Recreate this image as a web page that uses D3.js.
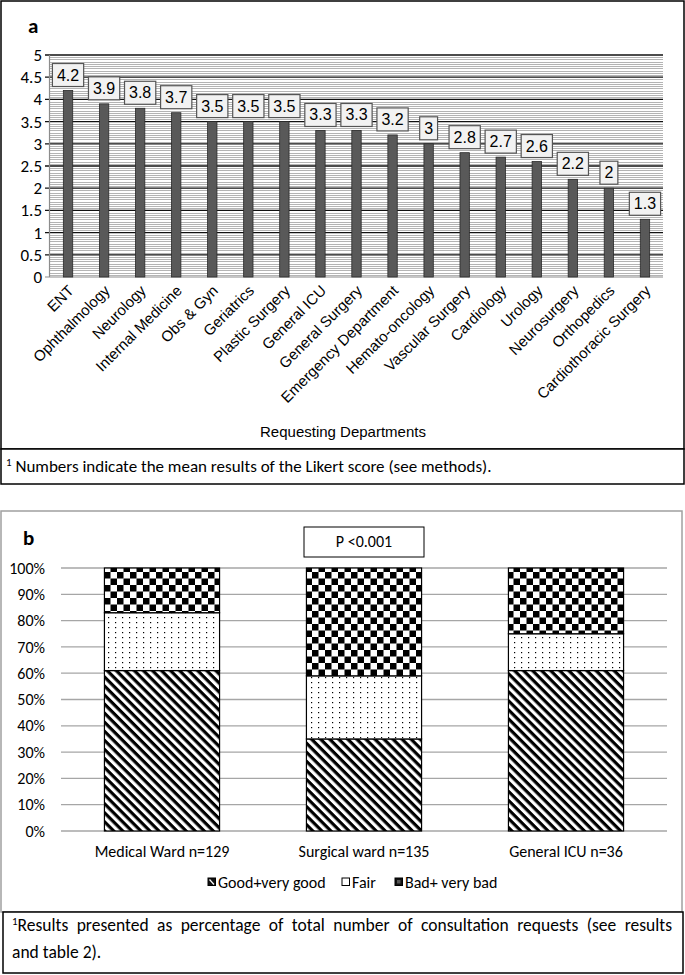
<!DOCTYPE html>
<html><head><meta charset="utf-8">
<script src="https://cdn.jsdelivr.net/npm/d3@7"></script>
<style>body{margin:0;background:#fff}svg{display:block}</style>
</head><body>
<svg id="c" width="685" height="975"></svg>
<script>
// ---- Data (panel a) ----
const departments = ["ENT","Ophthalmology","Neurology","Internal Medicine","Obs & Gyn","Geriatrics","Plastic Surgery","General ICU","General Surgery","Emergency Department","Hemato-oncology","Vascular Surgery","Cardiology","Urology","Neurosurgery","Orthopedics","Cardiothoracic Surgery"];
const likertMeans = [4.2,3.9,3.8,3.7,3.5,3.5,3.5,3.3,3.3,3.2,3,2.8,2.7,2.6,2.2,2,1.3];
const yTicksA = [0,0.5,1,1.5,2,2.5,3,3.5,4,4.5,5];
// ---- Data (panel b) ----
const wards = ["Medical Ward n=129","Surgical ward n=135","General ICU n=36"];
const seriesNames = ["Good+very good","Fair","Bad+ very bad"];
const goodPct = [61,35,61];
const fairPct = [22,24,14];
const badPct  = [17,41,25];
const yTicksB = [0,10,20,30,40,50,60,70,80,90,100];

const CAL = "Carlito, Lato, 'Open Sans', sans-serif";
const ARI = "'Liberation Sans', Arial, sans-serif";
const svg = d3.select("#c");

// ---------- patterns ----------
const defs = svg.append("defs");
const pStripe = defs.append("pattern").attr("id","stripe").attr("patternUnits","userSpaceOnUse")
  .attr("width",6.4).attr("height",6.4).attr("patternTransform","rotate(45)");
pStripe.append("rect").attr("width",6.4).attr("height",6.4).attr("fill","#fff");
pStripe.append("rect").attr("width",6.4).attr("height",3.2).attr("fill","#000");
const pDot = defs.append("pattern").attr("id","dots").attr("patternUnits","userSpaceOnUse")
  .attr("width",7).attr("height",5);
pDot.append("rect").attr("width",7).attr("height",5).attr("fill","#fff");
pDot.append("rect").attr("x",3).attr("y",2).attr("width",1.2).attr("height",1.2).attr("fill","#000");
const pChk = defs.append("pattern").attr("id","checker").attr("patternUnits","userSpaceOnUse")
  .attr("width",13).attr("height",13);
pChk.append("rect").attr("width",13).attr("height",13).attr("fill","#fff");
pChk.append("rect").attr("x",0).attr("y",0).attr("width",6.5).attr("height",6.5).attr("fill","#000");
pChk.append("rect").attr("x",6.5).attr("y",6.5).attr("width",6.5).attr("height",6.5).attr("fill","#000");
const fills = ["url(#stripe)","url(#dots)","url(#checker)"];

// ================= PANEL A =================
svg.append("rect").attr("x",1).attr("y",1).attr("width",683).attr("height",448)
  .attr("fill","#fff").attr("stroke","#000").attr("stroke-width",1.5);
svg.append("text").attr("x",28).attr("y",33).attr("font-family",CAL).attr("font-weight","bold")
  .attr("font-size",21).text("a");

const xa = d3.scaleBand(departments,[50,663]).paddingInner(0.74).paddingOuter(0.37);
const ya = d3.scaleLinear([0,5],[277,55]);
const ga = svg.append("g");
// minor gridlines
const minor = d3.range(0,100).map(i=>i*0.05).filter((v,i)=>i%10!==0);
ga.selectAll("line.minor").data(minor).join("line")
  .attr("x1",50).attr("x2",663).attr("y1",d=>Math.round(ya(d))+0.5).attr("y2",d=>Math.round(ya(d))+0.5)
  .attr("stroke","#b4b4b4").attr("stroke-width",1).attr("shape-rendering","crispEdges");
// major gridlines
ga.selectAll("line.major").data(yTicksA.filter(d=>d>0)).join("line")
  .attr("x1",45).attr("x2",663).attr("y1",d=>ya(d)).attr("y2",d=>ya(d))
  .attr("stroke","#111").attr("stroke-width",1.3);
// axes lines
ga.append("line").attr("x1",49.5).attr("x2",49.5).attr("y1",55).attr("y2",277).attr("stroke","#8c8c8c").attr("stroke-width",1.2);
ga.append("line").attr("x1",45).attr("x2",663).attr("y1",277).attr("y2",277).attr("stroke","#8c8c8c").attr("stroke-width",1.2);
// y labels
ga.selectAll("text.yl").data(yTicksA).join("text")
  .attr("x",42).attr("y",d=>ya(d)).attr("dy","0.35em").attr("text-anchor","end")
  .attr("font-family",CAL).attr("font-size",17).text(d=>d);
// bars
ga.selectAll("rect.bar").data(likertMeans).join("rect")
  .attr("x",(d,i)=>xa(departments[i])).attr("width",xa.bandwidth())
  .attr("y",d=>ya(d)).attr("height",d=>ya(0)-ya(d))
  .attr("fill","#595959").attr("stroke","#2a2a2a").attr("stroke-width",0.8);
// data labels
likertMeans.forEach((v,i)=>{
  const cx = xa(departments[i]) + xa.bandwidth()/2;
  const bottom = ya(v) - 4;
  const g = ga.append("g");
  const r = g.append("rect");
  const t = g.append("text").attr("x",cx).attr("y",bottom-6).attr("text-anchor","middle")
    .attr("font-family",ARI).attr("font-size",16).attr("fill","#000").text(v);
  const w = t.node().getComputedTextLength() + 9;
  r.attr("x",cx-w/2).attr("y",bottom-23).attr("width",w).attr("height",23)
    .attr("fill","#f2f2f2").attr("stroke","#555").attr("stroke-width",1.2);
});
// x labels
ga.selectAll("text.xl").data(departments).join("text")
  .attr("transform",d=>`translate(${xa(d)+xa.bandwidth()/2-1},284) rotate(-45)`)
  .attr("text-anchor","end").attr("dy","0.72em")
  .attr("font-family",ARI).attr("font-size",15).text(d=>d);
svg.append("text").attr("x",343).attr("y",437).attr("text-anchor","middle")
  .attr("font-family",ARI).attr("font-size",15).text("Requesting Departments");
// footnote a
svg.append("rect").attr("x",1).attr("y",449).attr("width",683).attr("height",35)
  .attr("fill","#fff").attr("stroke","#000").attr("stroke-width",1.5);
const fa = svg.append("text").attr("x",6).attr("y",472).attr("font-family",CAL).attr("font-size",17);
fa.append("tspan").attr("font-size",11).attr("dy",-6).text("1");
fa.append("tspan").attr("dy",6).text(" Numbers indicate the mean results of the Likert score (see methods).");

// ================= PANEL B =================
svg.append("rect").attr("x",1).attr("y",511).attr("width",681).attr("height",401)
  .attr("fill","#fff").attr("stroke","#a0a0a0").attr("stroke-width",1.5);
svg.append("text").attr("x",23).attr("y",545).attr("font-family",CAL).attr("font-weight","bold")
  .attr("font-size",21).text("b");
const xb = d3.scaleBand(wards,[61,667]).paddingInner(0.43).paddingOuter(0.215);
const yb = d3.scaleLinear([0,100],[831,568]);
const gb = svg.append("g");
gb.selectAll("line.g").data(yTicksB).join("line")
  .attr("x1",61).attr("x2",667).attr("y1",d=>yb(d)).attr("y2",d=>yb(d))
  .attr("stroke","#a6a6a6").attr("stroke-width",1.3);
gb.selectAll("text.yl").data(yTicksB).join("text")
  .attr("x",45).attr("y",d=>yb(d)).attr("dy","0.35em").attr("text-anchor","end")
  .attr("font-family",CAL).attr("font-size",16).text(d=>d+"%");
const rows = wards.map((w,i)=>({ward:w, good:goodPct[i], fair:fairPct[i], bad:badPct[i]}));
const stack = d3.stack().keys(["good","fair","bad"])(rows);
stack.forEach((layer,k)=>{
  gb.selectAll(null).data(layer).join("rect")
    .attr("x",d=>xb(d.data.ward)).attr("width",xb.bandwidth())
    .attr("y",d=>yb(d[1])).attr("height",d=>yb(d[0])-yb(d[1]))
    .attr("fill",fills[k]).attr("stroke","#000").attr("stroke-width",1.2);
});
gb.selectAll("text.xl").data(wards).join("text")
  .attr("x",d=>xb(d)+xb.bandwidth()/2).attr("y",857).attr("text-anchor","middle")
  .attr("font-family",CAL).attr("font-size",16).text(d=>d);
// P box
svg.append("rect").attr("x",304).attr("y",527).attr("width",120).attr("height",30)
  .attr("fill","#fff").attr("stroke","#000").attr("stroke-width",1);
svg.append("text").attr("x",364).attr("y",547).attr("text-anchor","middle")
  .attr("font-family",CAL).attr("font-size",16).text("P <0.001");
// legend
const legX = [208,342,395];
seriesNames.forEach((n,k)=>{
  svg.append("rect").attr("x",legX[k]).attr("y",878).attr("width",7.5).attr("height",7.5)
    .attr("fill",k===0?"#111":(k===1?"#fff":"#111")).attr("stroke","#000").attr("stroke-width",1);
  if(k===0) svg.append("line").attr("x1",legX[k]+1.5).attr("y1",879.5).attr("x2",legX[k]+6).attr("y2",884.5).attr("stroke","#fff").attr("stroke-width",1.2);
  if(k===2) svg.append("rect").attr("x",legX[k]+2).attr("y",880).attr("width",3.5).attr("height",3.5).attr("fill","#555");
  svg.append("text").attr("x",legX[k]+10).attr("y",887.5).attr("font-family",CAL).attr("font-size",16).text(n);
});
// footnote b (justified first line)
svg.append("rect").attr("x",3).attr("y",912).attr("width",680).attr("height",61)
  .attr("fill","#fff").attr("stroke","#000").attr("stroke-width",1.5);
const fb = svg.append("text").attr("x",12).attr("y",931).attr("font-family",CAL).attr("font-size",17.5);
fb.append("tspan").attr("font-size",11).attr("dy",-6).text("1");
const line1 = "Results presented as percentage of total number of consultation requests (see results";
const t1 = fb.append("tspan").attr("dy",6).text(line1);
const natural = fb.node().getComputedTextLength();
const nSpaces = line1.split(" ").length - 1;
const extra = Math.max(0,(672 - 12 - natural)/nSpaces);
t1.attr("word-spacing",extra);
svg.append("text").attr("x",12).attr("y",958).attr("font-family",CAL).attr("font-size",17.5).text("and table 2).");
</script>
</body></html>
